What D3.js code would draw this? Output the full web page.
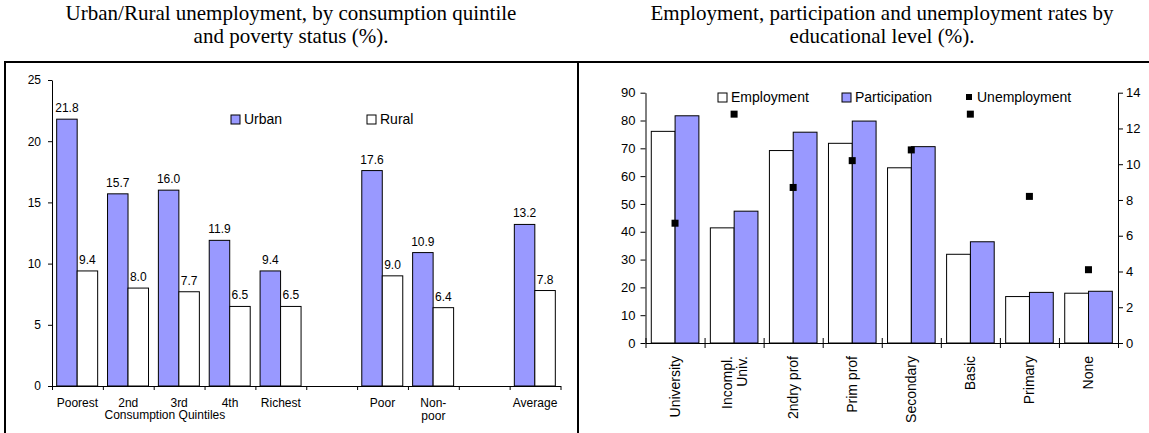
<!DOCTYPE html>
<html>
<head>
<meta charset="utf-8">
<script src="https://cdn.jsdelivr.net/npm/d3@7"></script>
<style>
    body { margin: 0; background: #fff; }
    svg text { font-family: "Liberation Sans", Arial, sans-serif; fill: #000; }
    .title { font-family: "Liberation Serif", "Times New Roman", serif; font-size: 21px; }
</style>
</head>
<body>
<svg id="chart" width="1149" height="433"></svg>
<script>
// left panel: unemployment by quintile / poverty status
const quintileCats = ["Poorest", "2nd", "3rd", "4th", "Richest", "gap1", "Poor", "Non-poor", "gap2", "Average"];
const quintileLabels = [["Poorest"], ["2nd"], ["3rd"], ["4th"], ["Richest"], [], ["Poor"], ["Non-", "poor"], [], ["Average"]];
const urbanValues = [21.8, 15.7, 16.0, 11.9, 9.4, null, 17.6, 10.9, null, 13.2];
const ruralValues = [9.4, 8.0, 7.7, 6.5, 6.5, null, 9.0, 6.4, null, 7.8];
const quintileTicks = [0, 5, 10, 15, 20, 25];

// right panel: rates by educational level
const eduCats = ["University", "Incompl. Univ.", "2ndry prof", "Prim prof", "Secondary", "Basic", "Primary", "None"];
const eduLabels = [["University"], ["Incompl.", "Univ."], ["2ndry prof"], ["Prim prof"], ["Secondary"], ["Basic"], ["Primary"], ["None"]];
const employmentValues = [76.1, 41.4, 69.2, 71.8, 63.0, 31.9, 16.7, 17.9];
const participationValues = [81.7, 47.4, 75.8, 79.8, 70.6, 36.4, 18.2, 18.6];
const unemploymentValues = [6.7, 12.8, 8.7, 10.2, 10.8, 12.8, 8.2, 4.1];
const rateTicks = [0, 10, 20, 30, 40, 50, 60, 70, 80, 90];
const unempTicks = [0, 2, 4, 6, 8, 10, 12, 14];

const blue = "#9999ff";
const svg = d3.select("#chart");

function styleAxis(g, size) {
    g.attr("font-family", null).attr("font-size", size);
    g.selectAll("path.domain").attr("stroke", "#000");
    g.selectAll(".tick line").attr("stroke", "#000");
}

// frames
svg.append("rect").attr("x", 5).attr("y", 62).attr("width", 573).attr("height", 400)
    .attr("fill", "none").attr("stroke", "#000").attr("stroke-width", 2);
svg.append("rect").attr("x", 578).attr("y", 62).attr("width", 600).attr("height", 400)
    .attr("fill", "none").attr("stroke", "#000").attr("stroke-width", 2);

// titles
svg.append("text").attr("class", "title").attr("x", 291).attr("y", 20).attr("text-anchor", "middle")
    .text("Urban/Rural unemployment, by consumption quintile");
svg.append("text").attr("class", "title").attr("x", 291).attr("y", 43).attr("text-anchor", "middle")
    .text("and poverty status (%).");
svg.append("text").attr("class", "title").attr("x", 882).attr("y", 20).attr("text-anchor", "middle")
    .text("Employment, participation and unemployment rates by");
svg.append("text").attr("class", "title").attr("x", 882).attr("y", 43).attr("text-anchor", "middle")
    .text("educational level (%).");

/**********************************************************
 ************************ Left chart **********************
 **********************************************************/
const xQ = d3.scaleBand().domain(quintileCats).range([52, 560.5]);
const yQ = d3.scaleLinear().domain([0, 25]).range([386, 80]);
const bwQ = xQ.bandwidth();
const left = svg.append("g");

quintileCats.forEach((c, i) => {
    if (urbanValues[i] == null) return;
    const x0 = xQ(c) + bwQ * 0.092, w = bwQ * 0.403;
    [[urbanValues[i], blue], [ruralValues[i], "#fff"]].forEach((s, j) => {
        left.append("rect")
            .attr("x", x0 + j * w).attr("y", yQ(s[0]))
            .attr("width", w).attr("height", yQ(0) - yQ(s[0]))
            .attr("fill", s[1]).attr("stroke", "#000").attr("stroke-width", 1);
        left.append("text")
            .attr("x", x0 + j * w + w / 2).attr("y", yQ(s[0]) - 7)
            .attr("text-anchor", "middle").attr("font-size", 12)
            .text(s[0].toFixed(1));
    });
});

// y axis
const yAxisQ = left.append("g").attr("transform", "translate(52,0)")
    .call(d3.axisLeft(yQ).tickValues(quintileTicks).tickSize(4).tickPadding(7).tickSizeOuter(0));
styleAxis(yAxisQ, 12);

// x axis with ticks on category boundaries
const idxQ = d3.scaleLinear().domain([0, quintileCats.length]).range(xQ.range());
const xAxisQ = left.append("g").attr("transform", "translate(0,386)")
    .call(d3.axisBottom(idxQ).ticks(quintileCats.length).tickSize(4).tickSizeOuter(0).tickFormat(""));
styleAxis(xAxisQ, 12);

quintileCats.forEach((c, i) => {
    quintileLabels[i].forEach((t, k) => {
        left.append("text")
            .attr("x", xQ(c) + bwQ / 2).attr("y", 407 + k * 13)
            .attr("text-anchor", "middle").attr("font-size", 12).text(t);
    });
});
left.append("text").attr("x", xQ("3rd") + bwQ * 0.22).attr("y", 419)
    .attr("text-anchor", "middle").attr("font-size", 12).text("Consumption Quintiles");

// legend
[["Urban", blue, 231], ["Rural", "#fff", 367]].forEach(d => {
    left.append("rect").attr("x", d[2]).attr("y", 115).attr("width", 9).attr("height", 9)
        .attr("fill", d[1]).attr("stroke", "#000");
    left.append("text").attr("x", d[2] + 13).attr("y", 124).attr("font-size", 14).text(d[0]);
});

/**********************************************************
 ************************ Right chart *********************
 **********************************************************/
const xE = d3.scaleBand().domain(eduCats).range([645.5, 1118]);
const yE = d3.scaleLinear().domain([0, 90]).range([343, 92.7]);
const yU = d3.scaleLinear().domain([0, 14]).range([343, 92.7]);
const bwE = xE.bandwidth();
const right = svg.append("g");

eduCats.forEach((c, i) => {
    const x0 = xE(c) + bwE * 0.098, w = bwE * 0.403;
    [[employmentValues[i], "#fff"], [participationValues[i], blue]].forEach((s, j) => {
        right.append("rect")
            .attr("x", x0 + j * w).attr("y", yE(s[0]))
            .attr("width", w).attr("height", yE(0) - yE(s[0]))
            .attr("fill", s[1]).attr("stroke", "#000").attr("stroke-width", 1);
    });
});

// unemployment markers, on the right scale
right.selectAll(".marker")
    .data(unemploymentValues)
    .enter().append("rect")
    .attr("class", "marker")
    .attr("x", (d, i) => xE(eduCats[i]) + bwE / 2 - 3.5)
    .attr("y", d => yU(d) - 3.5)
    .attr("width", 7).attr("height", 7)
    .attr("fill", "#000");

const yAxisE = right.append("g").attr("transform", "translate(645.5,0)")
    .call(d3.axisLeft(yE).tickValues(rateTicks).tickSize(5).tickPadding(5).tickSizeOuter(0));
styleAxis(yAxisE, 13);

const yAxisU = right.append("g").attr("transform", "translate(1118,0)")
    .call(d3.axisRight(yU).tickValues(unempTicks).tickSize(5).tickPadding(3).tickSizeOuter(0));
styleAxis(yAxisU, 13);

const idxE = d3.scaleLinear().domain([0, eduCats.length]).range(xE.range());
const xAxisE = right.append("g").attr("transform", "translate(0,343)")
    .call(d3.axisBottom(idxE).ticks(eduCats.length).tickSize(5).tickSizeOuter(0).tickFormat(""));
styleAxis(xAxisE, 13);
xAxisE.selectAll(".tick line").attr("y1", -5);

// rotated category labels
eduCats.forEach((c, i) => {
    const lines = eduLabels[i];
    lines.forEach((t, k) => {
        const off = (k - (lines.length - 1) / 2) * 15 + 5;
        right.append("text")
            .attr("transform", "translate(" + (xE(c) + bwE / 2 + off) + ",356) rotate(-90)")
            .attr("text-anchor", "end").attr("font-size", 14).text(t);
    });
});

// legend
[["Employment", "#fff", 718], ["Participation", blue, 842]].forEach(d => {
    right.append("rect").attr("x", d[2]).attr("y", 93).attr("width", 9).attr("height", 9)
        .attr("fill", d[1]).attr("stroke", "#000");
    right.append("text").attr("x", d[2] + 13).attr("y", 102).attr("font-size", 14).text(d[0]);
});
right.append("rect").attr("x", 966).attr("y", 94).attr("width", 6).attr("height", 6).attr("fill", "#000");
right.append("text").attr("x", 977).attr("y", 102).attr("font-size", 14).text("Unemployment");
</script>
</body>
</html>
